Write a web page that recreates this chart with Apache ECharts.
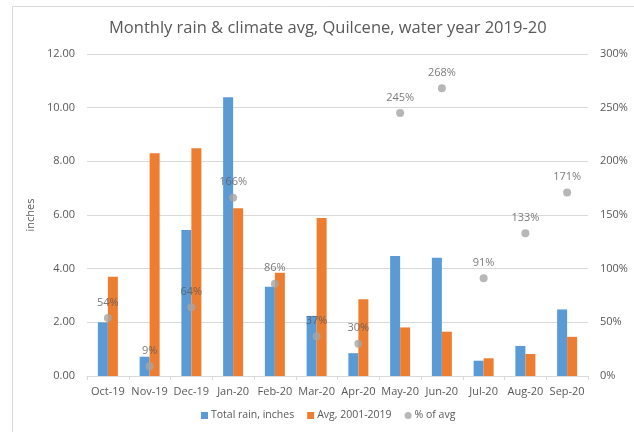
<!DOCTYPE html>
<html><head><meta charset="utf-8">
<script src="https://cdn.jsdelivr.net/npm/echarts@6/dist/echarts.min.js"></script>
<style>html,body{margin:0;padding:0;background:#fff}#c{width:634px;height:432px}</style>
</head><body><div id="c"></div>
<script>
const categories = ['Oct-19','Nov-19','Dec-19','Jan-20','Feb-20','Mar-20','Apr-20','May-20','Jun-20','Jul-20','Aug-20','Sep-20'];
const totalRain = [2.00, 0.72, 5.44, 10.39, 3.33, 2.24, 0.85, 4.47, 4.41, 0.57, 1.12, 2.48];
const avg2001_2019 = [3.70, 8.30, 8.49, 6.25, 3.85, 5.89, 2.86, 1.81, 1.65, 0.66, 0.82, 1.46];
const pctOfAvg = [54, 9, 64, 166, 86, 37, 30, 245, 268, 91, 133, 171];
const leftTicks = ['0.00','2.00','4.00','6.00','8.00','10.00','12.00'];

const font = '"Open Sans", "Liberation Sans", sans-serif';
const txt = '#595959';
const chart = echarts.init(document.getElementById('c'));
chart.setOption({
  animation: false,
  backgroundColor: '#fff',
  graphic: [{type:'rect', shape:{x:12.5,y:6.5,width:640,height:440}, style:{fill:'none',stroke:'#d9d9d9',lineWidth:1}}],
  title: {text:'Monthly rain & climate avg, Quilcene, water year 2019-20', left:104, top:15,
    textStyle:{fontFamily:font, fontSize:16.5, fontWeight:'normal', color:txt}},
  legend: {bottom:6, left:196, itemWidth:7, itemHeight:7, itemGap:13,
    textStyle:{fontFamily:font, fontSize:10.5, color:txt, padding:[0,0,0,-2]},
    data:[{name:'Total rain, inches', icon:'rect'},{name:'Avg, 2001-2019', icon:'rect'},{name:'% of avg', icon:'circle'}]},
  grid: {left:87, right:46, top:54, bottom:56},
  xAxis: {type:'category', data:categories,
    axisLine:{lineStyle:{color:'#d9d9d9'}},
    axisTick:{show:true, alignWithLabel:false, length:4, lineStyle:{color:'#d9d9d9'}},
    axisLabel:{fontFamily:font, fontSize:11, color:txt, margin:10, interval:0}},
  yAxis: [
    {type:'value', min:0, max:12, interval:2, name:'inches', nameLocation:'middle', nameGap:46, nameRotate:90,
     nameTextStyle:{fontFamily:font, fontSize:11, color:txt},
     axisLabel:{fontFamily:font, fontSize:11, color:txt, margin:12, formatter:(v)=>leftTicks[Math.round(v/2)]},
     splitLine:{lineStyle:{color:'#d9d9d9'}}, axisLine:{show:false}, axisTick:{show:false}},
    {type:'value', min:0, max:300, interval:50,
     axisLabel:{fontFamily:font, fontSize:11, color:txt, margin:12, formatter:'{value}%'},
     splitLine:{show:false}, axisLine:{show:false}, axisTick:{show:false}}
  ],
  series: [
    {name:'Total rain, inches', type:'bar', data:totalRain, barWidth:10, barGap:'0%', itemStyle:{color:'#5B9BD5'}},
    {name:'Avg, 2001-2019', type:'bar', data:avg2001_2019, barWidth:10, barGap:'0%', itemStyle:{color:'#ED7D31'}},
    {name:'% of avg', type:'scatter', yAxisIndex:1, data:pctOfAvg, symbolSize:8, z:5,
     itemStyle:{color:'#A5A5A5'},
     label:{show:true, position:'top', distance:6, formatter:'{c}%', fontFamily:font, fontSize:11, color:txt}}
  ]
});
</script></body></html>
